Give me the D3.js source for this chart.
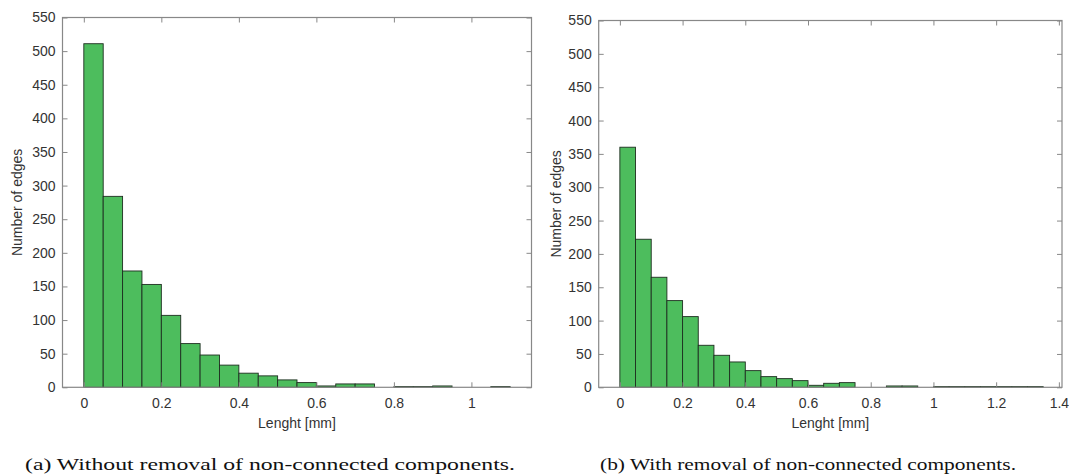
<!DOCTYPE html>
<html><head><meta charset="utf-8">
<script src="https://cdn.jsdelivr.net/npm/d3@7"></script>
<style>
body{margin:0;background:#fff;}
svg{display:block;}
.tick text{font-family:"Liberation Sans",Arial,sans-serif;font-size:14px;fill:#333;}
</style></head>
<body><svg id="chart" width="1069" height="475"></svg>
<script>
// Data
const binWidth = 0.05;
const countsA = [511, 284, 173, 153, 107, 65, 48, 33, 21, 17, 11, 7, 2, 5, 5, 0, 1, 1, 2, 0, 0, 1];
const countsB = [360, 222, 165, 130, 106, 63, 48, 38, 25, 16, 13, 10, 3, 6, 7, 0, 0, 2, 2, 0, 1, 1, 1, 1, 1, 1, 1];
const xTicksA = [0, 0.2, 0.4, 0.6, 0.8, 1];
const xTicksB = [0, 0.2, 0.4, 0.6, 0.8, 1, 1.2, 1.4];
const yTicks = [0, 50, 100, 150, 200, 250, 300, 350, 400, 450, 500, 550];
const xLabel = "Lenght [mm]";
const yLabel = "Number of edges";
const captionA = "(a) Without removal of non-connected components.";
const captionB = "(b) With removal of non-connected components.";

const svg = d3.select("#chart");

function panel(cfg) {
  const {left, top, right, bottom, xDomain, counts, xTicks, yLabelX, caption, capX, capW} = cfg;
  const x = d3.scaleLinear().domain(xDomain).range([left, right]);
  const y = d3.scaleLinear().domain([0, 550]).range([bottom, top]);
  const g = svg.append("g");

  // bars
  g.selectAll("rect.bar").data(counts.map((c, i) => ({x0: i * binWidth, x1: (i + 1) * binWidth, c})))
    .enter().append("rect").attr("class", "bar")
    .attr("x", d => x(d.x0)).attr("width", d => x(d.x1) - x(d.x0))
    .attr("y", d => y(d.c)).attr("height", d => y(0) - y(d.c))
    .attr("fill", "#4dbd5d").attr("stroke", "#1e2e20").attr("stroke-width", 0.9);

  const axCol = "#888";
  const gb = g.append("g").attr("transform", `translate(0,${bottom})`)
    .call(d3.axisBottom(x).tickValues(xTicks).tickFormat(d3.format("~g")).tickSizeInner(-5).tickSizeOuter(0).tickPadding(11));
  const gt = g.append("g").attr("transform", `translate(0,${top})`)
    .call(d3.axisTop(x).tickValues(xTicks).tickFormat("").tickSizeInner(-5).tickSizeOuter(0));
  const gl = g.append("g").attr("transform", `translate(${left},0)`)
    .call(d3.axisLeft(y).tickValues(yTicks).tickSizeInner(-5).tickSizeOuter(0).tickPadding(7));
  const gr = g.append("g").attr("transform", `translate(${right},0)`)
    .call(d3.axisRight(y).tickValues(yTicks).tickFormat("").tickSizeInner(-5).tickSizeOuter(0));
  [gb, gt, gl, gr].forEach(a => {
    a.select(".domain").remove();
    a.selectAll(".tick line").attr("stroke", axCol);
  });
  g.append("rect").attr("x", left).attr("y", top).attr("width", right - left).attr("height", bottom - top)
    .attr("fill", "none").attr("stroke", axCol).attr("stroke-width", 1.2);

  g.append("text").attr("x", (left + right) / 2).attr("y", bottom + 41)
    .attr("text-anchor", "middle").attr("font-family", "Liberation Sans, Arial, sans-serif")
    .attr("font-size", 14).attr("fill", "#333").text(xLabel);
  g.append("text").attr("transform", `translate(${yLabelX},${(top + bottom) / 2}) rotate(-90)`)
    .attr("text-anchor", "middle").attr("font-family", "Liberation Sans, Arial, sans-serif")
    .attr("font-size", 14).attr("fill", "#333").text(yLabel);
  g.append("text").attr("x", capX).attr("y", 470)
    .attr("font-family", "Liberation Serif, DejaVu Serif, serif").attr("font-size", 17)
    .attr("fill", "#111").attr("textLength", capW).attr("lengthAdjust", "spacingAndGlyphs").text(caption);
}

panel({left: 62.5, top: 17.5, right: 531.5, bottom: 387.3, xDomain: [-0.055, 1.155],
  counts: countsA, xTicks: xTicksA, yLabelX: 22, caption: captionA, capX: 25, capW: 490});
panel({left: 598.7, top: 20.5, right: 1062, bottom: 387.3, xDomain: [-0.0675, 1.41],
  counts: countsB, xTicks: xTicksB, yLabelX: 561, caption: captionB, capX: 600, capW: 416});
</script></body></html>
